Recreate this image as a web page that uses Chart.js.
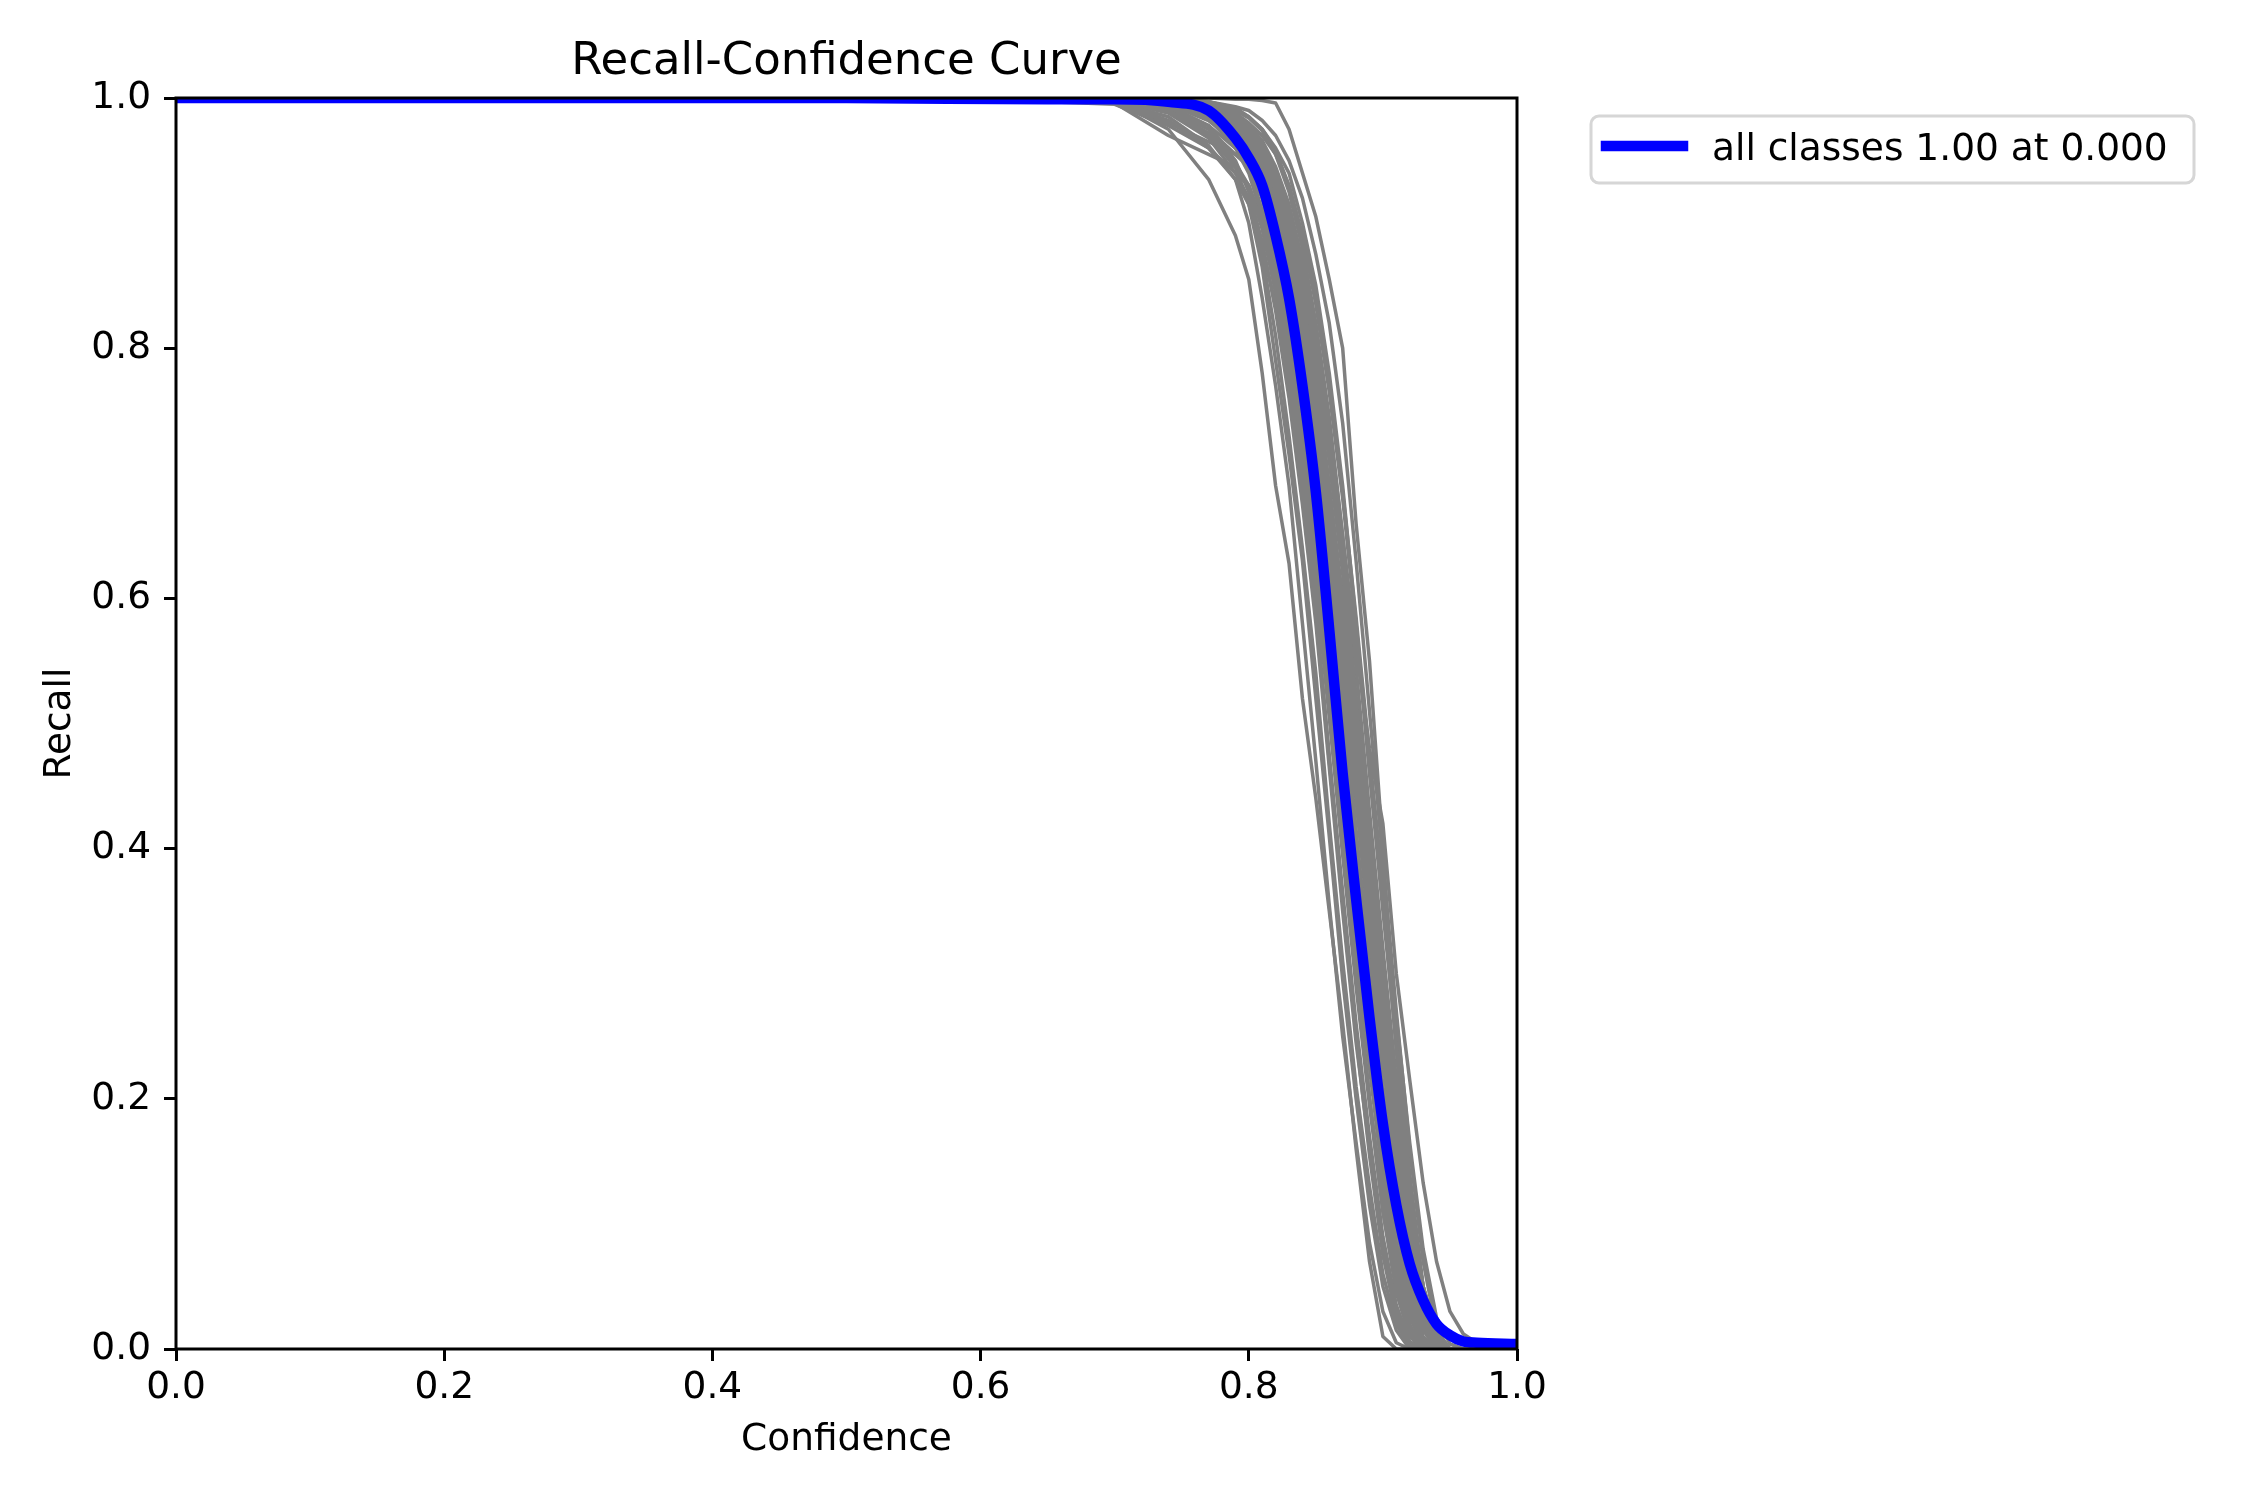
<!DOCTYPE html>
<html>
<head>
<meta charset="utf-8">
<title>Recall-Confidence Curve</title>
<script src="https://cdn.jsdelivr.net/npm/chart.js@4.4.1/dist/chart.umd.min.js"></script>
<style>
  html, body { margin: 0; padding: 0; background: #fff; }
  #wrap { width: 2250px; height: 1500px; }
</style>
</head>
<body>
<div id="wrap"><canvas id="myChart" width="2250" height="1500"></canvas></div>
<script>
// ejes
const tickValues = [0, 0.2, 0.4, 0.6, 0.8, 1.0];

// confianza comun para las curvas por clase (gris)
const confGrid = [0.00, 0.60, 0.70, 0.74, 0.77, 0.79, 0.80, 0.81, 0.82, 0.83, 0.84, 0.85, 0.86,
                  0.87, 0.88, 0.89, 0.90, 0.91, 0.92, 0.93, 0.94, 0.95, 0.96, 0.97, 1.00];

// recall de cada clase
const classRecall = [
  [1, 1, 0.998, 0.975, 0.935, 0.89, 0.855, 0.78, 0.69, 0.628, 0.52, 0.44, 0.35, 0.26, 0.16, 0.07, 0.01, 0, 0, 0, 0, 0, 0, 0, 0],
  [1, 1, 1, 1, 1, 0.999, 0.999, 0.998, 0.996, 0.975, 0.94, 0.905, 0.855, 0.80, 0.66, 0.55, 0.40, 0.24, 0.12, 0.05, 0.01, 0, 0, 0, 0],
  [1, 1, 0.999, 0.998, 0.995, 0.985, 0.978, 0.965, 0.94, 0.91, 0.87, 0.81, 0.74, 0.65, 0.56, 0.48, 0.42, 0.30, 0.215, 0.133, 0.07, 0.03, 0.012, 0.005, 0],
  [1, 1, 0.999, 0.997, 0.99, 0.975, 0.96, 0.945, 0.91, 0.87, 0.81, 0.73, 0.64, 0.54, 0.44, 0.34, 0.25, 0.18, 0.12, 0.04, 0, 0, 0, 0, 0],
  [1, 1, 0.997, 0.985, 0.962, 0.935, 0.9, 0.84, 0.77, 0.69, 0.58, 0.47, 0.355, 0.25, 0.165, 0.085, 0.03, 0.005, 0, 0, 0, 0, 0, 0, 0],
  [1, 1, 0.998, 0.99, 0.97, 0.945, 0.915, 0.865, 0.79, 0.715, 0.63, 0.52, 0.41, 0.295, 0.2, 0.115, 0.05, 0.015, 0, 0, 0, 0, 0, 0, 0],
  [1, 1, 0.999, 0.994, 0.978, 0.95, 0.925, 0.885, 0.83, 0.76, 0.675, 0.58, 0.465, 0.35, 0.245, 0.16, 0.08, 0.03, 0.005, 0, 0, 0, 0, 0, 0],
  [1, 1, 0.996, 0.97, 0.955, 0.945, 0.93, 0.9, 0.845, 0.78, 0.7, 0.59, 0.47, 0.36, 0.25, 0.155, 0.075, 0.025, 0.004, 0, 0, 0, 0, 0, 0],
  [1, 1, 0.999, 0.995, 0.984, 0.96, 0.94, 0.905, 0.86, 0.8, 0.725, 0.63, 0.52, 0.4, 0.3, 0.2, 0.12, 0.055, 0.018, 0.002, 0, 0, 0, 0, 0],
  [1, 1, 0.998, 0.99, 0.975, 0.955, 0.945, 0.91, 0.87, 0.81, 0.715, 0.625, 0.53, 0.41, 0.31, 0.2, 0.11, 0.05, 0.015, 0, 0, 0, 0, 0, 0],
  [1, 1, 0.999, 0.996, 0.988, 0.97, 0.955, 0.93, 0.89, 0.835, 0.765, 0.68, 0.575, 0.46, 0.35, 0.25, 0.16, 0.08, 0.03, 0.005, 0, 0, 0, 0, 0],
  [1, 1, 0.999, 0.997, 0.99, 0.975, 0.96, 0.94, 0.905, 0.85, 0.78, 0.68, 0.56, 0.44, 0.33, 0.235, 0.15, 0.075, 0.025, 0.004, 0, 0, 0, 0, 0],
  [1, 1, 0.997, 0.98, 0.965, 0.955, 0.945, 0.92, 0.88, 0.83, 0.77, 0.69, 0.585, 0.47, 0.36, 0.255, 0.165, 0.085, 0.035, 0.008, 0, 0, 0, 0, 0],
  [1, 1, 0.999, 0.997, 0.99, 0.975, 0.962, 0.945, 0.91, 0.86, 0.8, 0.72, 0.63, 0.515, 0.405, 0.3, 0.205, 0.12, 0.055, 0.018, 0.002, 0, 0, 0, 0],
  [1, 1, 0.999, 0.996, 0.985, 0.97, 0.96, 0.94, 0.915, 0.87, 0.79, 0.725, 0.62, 0.525, 0.4, 0.31, 0.2, 0.115, 0.05, 0.015, 0, 0, 0, 0, 0],
  [1, 1, 0.999, 0.997, 0.992, 0.98, 0.97, 0.955, 0.93, 0.89, 0.835, 0.765, 0.68, 0.575, 0.46, 0.35, 0.25, 0.16, 0.08, 0.03, 0.005, 0, 0, 0, 0],
  [1, 1, 1, 0.998, 0.994, 0.985, 0.975, 0.96, 0.935, 0.9, 0.845, 0.77, 0.675, 0.56, 0.45, 0.345, 0.24, 0.15, 0.07, 0.02, 0.002, 0, 0, 0, 0],
  [1, 1, 1, 0.998, 0.993, 0.984, 0.975, 0.962, 0.94, 0.91, 0.86, 0.8, 0.72, 0.63, 0.52, 0.405, 0.3, 0.2, 0.115, 0.05, 0.015, 0, 0, 0, 0],
  [1, 1, 1, 0.999, 0.995, 0.988, 0.98, 0.97, 0.955, 0.93, 0.89, 0.835, 0.765, 0.68, 0.575, 0.46, 0.35, 0.245, 0.14, 0.05, 0.01, 0, 0, 0, 0],
  [1, 1, 1, 0.999, 0.997, 0.992, 0.985, 0.975, 0.96, 0.94, 0.9, 0.85, 0.78, 0.69, 0.58, 0.47, 0.36, 0.24, 0.13, 0.045, 0.008, 0, 0, 0, 0],
  [1, 1, 1, 0.999, 0.997, 0.993, 0.99, 0.982, 0.97, 0.95, 0.92, 0.875, 0.82, 0.74, 0.63, 0.51, 0.39, 0.27, 0.16, 0.07, 0.015, 0, 0, 0, 0],
  [1, 1, 0.998, 0.988, 0.968, 0.94, 0.92, 0.875, 0.81, 0.73, 0.64, 0.54, 0.42, 0.31, 0.21, 0.13, 0.06, 0.02, 0.002, 0, 0, 0, 0, 0, 0],
  [1, 1, 0.999, 0.996, 0.986, 0.968, 0.958, 0.935, 0.9, 0.85, 0.79, 0.7, 0.6, 0.49, 0.38, 0.275, 0.18, 0.1, 0.04, 0.008, 0, 0, 0, 0, 0],
  [1, 1, 0.999, 0.997, 0.99, 0.978, 0.965, 0.95, 0.925, 0.88, 0.82, 0.75, 0.665, 0.565, 0.45, 0.345, 0.255, 0.165, 0.085, 0.03, 0.004, 0, 0, 0, 0],
  [1, 0.999, 0.995, 0.978, 0.96, 0.94, 0.93, 0.9, 0.855, 0.79, 0.715, 0.62, 0.51, 0.4, 0.295, 0.2, 0.115, 0.05, 0.012, 0, 0, 0, 0, 0, 0],
  [1, 1, 0.999, 0.998, 0.991, 0.978, 0.965, 0.948, 0.918, 0.872, 0.81, 0.735, 0.64, 0.53, 0.415, 0.31, 0.21, 0.125, 0.06, 0.02, 0.003, 0, 0, 0, 0],
  [1, 1, 1, 0.998, 0.994, 0.986, 0.978, 0.966, 0.945, 0.915, 0.87, 0.81, 0.73, 0.635, 0.52, 0.41, 0.3, 0.195, 0.105, 0.04, 0.008, 0, 0, 0, 0],
  [1, 1, 0.999, 0.993, 0.975, 0.948, 0.93, 0.895, 0.845, 0.775, 0.69, 0.59, 0.475, 0.365, 0.26, 0.17, 0.09, 0.035, 0.006, 0, 0, 0, 0, 0, 0],
  [1, 1, 0.999, 0.996, 0.985, 0.962, 0.95, 0.92, 0.875, 0.815, 0.745, 0.66, 0.56, 0.45, 0.34, 0.24, 0.15, 0.07, 0.02, 0, 0, 0, 0, 0, 0],
  [1, 1, 0.999, 0.998, 0.993, 0.982, 0.972, 0.958, 0.932, 0.895, 0.84, 0.78, 0.69, 0.6, 0.49, 0.37, 0.27, 0.175, 0.09, 0.03, 0.004, 0, 0, 0, 0],
  [1, 1, 1, 0.998, 0.994, 0.983, 0.972, 0.955, 0.925, 0.88, 0.83, 0.76, 0.69, 0.59, 0.48, 0.375, 0.265, 0.16, 0.075, 0.025, 0.003, 0, 0, 0, 0],
  [1, 1, 0.998, 0.992, 0.978, 0.96, 0.945, 0.925, 0.885, 0.83, 0.75, 0.67, 0.575, 0.475, 0.37, 0.27, 0.18, 0.1, 0.04, 0.006, 0, 0, 0, 0, 0],
  [1, 1, 1, 0.999, 0.996, 0.99, 0.984, 0.974, 0.955, 0.925, 0.88, 0.82, 0.745, 0.65, 0.545, 0.43, 0.32, 0.215, 0.12, 0.05, 0.012, 0, 0, 0, 0],
  [1, 1, 0.999, 0.997, 0.99, 0.972, 0.958, 0.94, 0.905, 0.86, 0.81, 0.74, 0.65, 0.55, 0.44, 0.33, 0.23, 0.14, 0.065, 0.02, 0.002, 0, 0, 0, 0],
  [1, 1, 0.998, 0.99, 0.972, 0.945, 0.928, 0.9, 0.855, 0.8, 0.73, 0.645, 0.545, 0.435, 0.325, 0.225, 0.135, 0.06, 0.015, 0, 0, 0, 0, 0, 0],
  [1, 1, 1, 0.999, 0.997, 0.991, 0.985, 0.975, 0.958, 0.93, 0.89, 0.84, 0.77, 0.685, 0.585, 0.475, 0.37, 0.265, 0.165, 0.08, 0.025, 0.004, 0, 0, 0],
  [1, 1, 0.999, 0.995, 0.982, 0.965, 0.95, 0.928, 0.892, 0.842, 0.775, 0.695, 0.6, 0.5, 0.39, 0.285, 0.19, 0.105, 0.045, 0.01, 0, 0, 0, 0, 0],
  [1, 1, 0.999, 0.998, 0.992, 0.98, 0.968, 0.952, 0.925, 0.885, 0.835, 0.76, 0.675, 0.57, 0.47, 0.365, 0.265, 0.175, 0.095, 0.035, 0.006, 0, 0, 0, 0],
  [1, 1, 1, 0.998, 0.995, 0.987, 0.978, 0.963, 0.94, 0.905, 0.855, 0.79, 0.71, 0.62, 0.5, 0.39, 0.285, 0.18, 0.09, 0.03, 0.004, 0, 0, 0, 0],
  [1, 1, 0.997, 0.982, 0.96, 0.935, 0.915, 0.88, 0.835, 0.775, 0.7, 0.61, 0.505, 0.395, 0.29, 0.195, 0.11, 0.045, 0.01, 0, 0, 0, 0, 0, 0]
];

// curva azul: todas las clases
const meanConf = [0.00, 0.50, 0.65, 0.70, 0.74, 0.77, 0.79, 0.80, 0.81, 0.82, 0.83, 0.84, 0.85,
                  0.86, 0.87, 0.88, 0.89, 0.90, 0.91, 0.92, 0.93, 0.94, 0.95, 0.96, 0.97, 1.00];
const meanRecall = [1.0, 1.0, 0.999, 0.999, 0.997, 0.99, 0.968, 0.952, 0.93, 0.89, 0.84, 0.77, 0.685,
                    0.575, 0.46, 0.36, 0.265, 0.18, 0.115, 0.068, 0.039, 0.02, 0.011, 0.006, 0.005, 0.004];

const best = meanRecall.indexOf(Math.max(...meanRecall));
const meanLabel = 'all classes ' + meanRecall[best].toFixed(2) + ' at ' + meanConf[best].toFixed(3);

Chart.defaults.font.family = '"DejaVu Sans", sans-serif';
Chart.defaults.color = '#000';

// marco completo (spines) por encima de las lineas
const spines = {
  id: 'spines',
  afterDatasetsDraw(chart) {
    const {ctx, chartArea: a} = chart;
    ctx.save();
    ctx.strokeStyle = '#000';
    ctx.lineWidth = 3;
    ctx.strokeRect(a.left, a.top, a.right - a.left, a.bottom - a.top);
    ctx.restore();
  }
};

// leyenda fuera del area, arriba a la derecha
const outsideLegend = {
  id: 'outsideLegend',
  afterDraw(chart) {
    const {ctx, chartArea: a} = chart;
    const ds = chart.data.datasets[0];
    const x0 = a.right + 74, y0 = a.top + 18;
    ctx.save();
    ctx.beginPath();
    ctx.roundRect(x0, y0, 603, 67, 8);
    ctx.fillStyle = 'rgba(255,255,255,0.8)';
    ctx.fill();
    ctx.strokeStyle = '#d6d6d6';
    ctx.lineWidth = 3;
    ctx.stroke();
    ctx.beginPath();
    ctx.moveTo(x0 + 15, y0 + 30);
    ctx.lineTo(x0 + 92, y0 + 30);
    ctx.strokeStyle = ds.borderColor;
    ctx.lineWidth = 10.5;
    ctx.lineCap = 'square';
    ctx.stroke();
    ctx.font = '37.5px "DejaVu Sans", sans-serif';
    ctx.fillStyle = '#000';
    ctx.textBaseline = 'alphabetic';
    ctx.fillText(ds.label, x0 + 121, y0 + 44);
    ctx.restore();
  }
};

const datasets = [{
  label: meanLabel,
  data: meanConf.map((c, i) => ({x: c, y: meanRecall[i]})),
  borderColor: '#0000ff',
  borderWidth: 10.5,
  cubicInterpolationMode: 'monotone',
  pointRadius: 0,
  clip: 0,
  order: 0
}];

classRecall.forEach((rec, k) => {
  datasets.push({
    label: 'class ' + k,
    data: confGrid.map((c, j) => ({x: c, y: rec[j]})),
    borderColor: '#808080',
    borderWidth: 3.5,
    borderJoinStyle: 'round',
    tension: 0,
    pointRadius: 0,
    clip: 0,
    order: 1
  });
});

const tickFont = {size: 37.5};
const ctx = document.getElementById('myChart');

new Chart(ctx, {
  type: 'line',
  data: {datasets: datasets},
  options: {
    responsive: false,
    devicePixelRatio: 1,
    animation: false,
    events: [],
    layout: {padding: {left: 0, top: 0, right: 733, bottom: 0}},
    plugins: {
      legend: {display: false},
      tooltip: {enabled: false},
      title: {
        display: true,
        fullSize: false,
        text: 'Recall-Confidence Curve',
        font: {size: 45, weight: 'normal'},
        color: '#000',
        padding: {top: 35, bottom: 9}
      }
    },
    scales: {
      x: {
        type: 'linear',
        min: 0,
        max: 1,
        afterFit: s => { s.height = 151; },
        afterBuildTicks: s => { s.ticks = tickValues.map(v => ({value: v})); },
        ticks: {font: tickFont, padding: 5, maxRotation: 0, callback: v => v.toFixed(1)},
        grid: {drawOnChartArea: false, drawTicks: true, tickLength: 12, tickWidth: 3, tickColor: '#000'},
        border: {display: false},
        title: {display: true, text: 'Confidence', font: tickFont, padding: {top: 0, bottom: 37}}
      },
      y: {
        type: 'linear',
        min: 0,
        max: 1,
        afterFit: s => { s.width = 176; },
        afterBuildTicks: s => { s.ticks = tickValues.map(v => ({value: v})); },
        ticks: {font: tickFont, padding: 13, callback: v => v.toFixed(1)},
        grid: {drawOnChartArea: false, drawTicks: true, tickLength: 12, tickWidth: 3, tickColor: '#000'},
        border: {display: false},
        title: {display: true, text: 'Recall', font: tickFont, padding: {top: 38, bottom: 0}}
      }
    }
  },
  plugins: [spines, outsideLegend]
});
</script>
</body>
</html>
